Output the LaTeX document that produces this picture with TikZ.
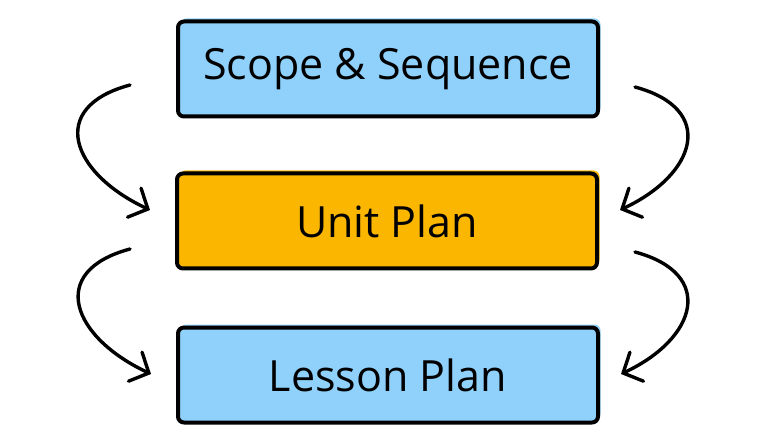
\documentclass[tikz,border=0pt]{standalone}
\usepackage{fontspec}
\setmainfont{Open Sans}
\usepackage{xcolor}
\usepackage{tikz}
\usetikzlibrary{arrows.meta,positioning}
\definecolor{planblue}{HTML}{8FD1FB}
\definecolor{planorange}{HTML}{FBB700}
\tikzset{
  planbox/.style={draw=black,line width=4pt,rounded corners=6pt,minimum width=420pt,minimum height=95pt,inner sep=0pt,font=\fontsize{43}{50}\selectfont},
  bluebox/.style={planbox,fill=planblue,preaction={fill=planblue,transform canvas={shift={(2.5pt,3pt)}}}},
  orangebox/.style={planbox,fill=planorange,preaction={fill=planorange,transform canvas={shift={(2.5pt,3pt)}}}},
  flowarrow/.style={-{Straight Barb[length=15pt,width=32pt,line cap=round]},line width=3.4pt,line cap=round,looseness=1.75}
}

\begin{document}
\begin{tikzpicture}[x=1pt,y=1pt]
\useasboundingbox (0,0) rectangle (768,442);
\node[bluebox] (scope) at (388,373) {Scope \& Sequence};
\node[orangebox] (unit) at (387,221) {Unit Plan};
\node[bluebox] (lesson) at (388,67) {Lesson Plan};
% left side
\draw[flowarrow] ([xshift=-46pt,yshift=-16pt]scope.west) to[out=195,in=155] ([xshift=-25pt,yshift=11pt]unit.west);
\draw[flowarrow] ([xshift=-45pt,yshift=-28pt]unit.west) to[out=195,in=155] ([xshift=-25pt,yshift=1pt]lesson.west);
% right side
\draw[flowarrow] ([xshift=35pt,yshift=-18pt]scope.east) to[out=-15,in=25] ([xshift=21pt,yshift=11pt]unit.east);
\draw[flowarrow] ([xshift=36pt,yshift=-31pt]unit.east) to[out=-15,in=25] ([xshift=21pt,yshift=1pt]lesson.east);
\end{tikzpicture}
\end{document}
